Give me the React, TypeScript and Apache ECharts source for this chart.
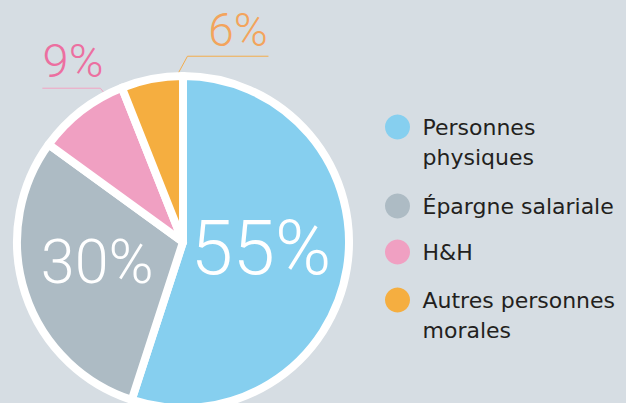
import React, { useEffect, useRef } from 'react';
import * as echarts from 'echarts';

const categories = ['Personnes physiques', 'Épargne salariale', 'H&H', 'Autres personnes morales'];
const legendLabels = ['Personnes\nphysiques', 'Épargne salariale', 'H&H', 'Autres personnes\nmorales'];
const values = [55, 30, 9, 6];
const valueLabels = ['55%', '30%', '9%', '6%'];
const colors = ['#86cfef', '#adbbc4', '#f0a0c2', '#f5ae40'];
const labelColors = ['#ffffff', '#ffffff', '#ec6fa0', '#f3a45c'];
const lineColors = ['#ffffff', '#ffffff', '#f2a3c3', '#f3ac4c'];

const CX = 183;
const CY = 242;
const R = 166;
const RC = 162;

export default function App() {
  const ref = useRef<HTMLDivElement>(null);
  useEffect(() => {
    if (!ref.current) return;
    const chart = echarts.init(ref.current, null, { renderer: 'svg' });
    const total = values.reduce((a, b) => a + b, 0);
    const cum: number[] = [];
    let acc = 0;
    values.forEach((v) => { cum.push(acc); acc += v; });
    const pt = (i: number, frac: number) => {
      const f = (cum[i] + values[i] * frac) / total;
      const a = f * Math.PI * 2;
      return [CX + RC * Math.sin(a), CY - RC * Math.cos(a)];
    };

    const legendTops = [82, 191, 237, 255];
    const legends = categories.map((name, i) => {
      const twoLine = legendLabels[i].includes('\n');
      return {
        data: [name],
        left: 385,
        top: legendTops[i],
        padding: 0,
        orient: 'vertical',
        icon: 'circle',
        itemWidth: 40,
        itemHeight: 25,
        selectedMode: false,
        itemStyle: { borderWidth: 0 },
        formatter: () => (twoLine ? '\n' + legendLabels[i] : legendLabels[i]),
        textStyle: {
          fontFamily: 'DejaVu Sans',
          fontSize: 22,
          color: '#231f20',
          lineHeight: 30,
        },
      };
    });

    chart.setOption({
      animation: false,
      backgroundColor: '#d6dde3',
      legend: legends,
      series: [
        {
          type: 'pie',
          center: [CX, CY],
          radius: R,
          startAngle: 90,
          clockwise: true,
          avoidLabelOverlap: false,
          silent: true,
          itemStyle: { borderColor: '#ffffff', borderWidth: 8 },
          emphasis: { disabled: true },
          label: {
            show: true,
            position: 'inside',
            fontFamily: 'Roboto',
            fontWeight: 300,
          },
          labelLine: { show: false },
          labelLayout: (p: any) => {
            if (p.dataIndex === 0) return { dx: -7, dy: -7 };
            if (p.dataIndex === 1) return { dx: -4, dy: -7 };
            if (p.dataIndex === 2) {
              const s = pt(2, 0.82);
              const m = [s[0] - 8, s[1] - 10];
              const e = [m[0] - 58, m[1]];
              return {
                x: 73,
                y: m[1] - 28,
                align: 'center',
                verticalAlign: 'middle',
                labelLinePoints: [s, m, e],
              };
            }
            if (p.dataIndex === 3) {
              const s = pt(3, 0.86);
              const m = [s[0] + 13, s[1] - 24];
              const e = [m[0] + 81, m[1]];
              return {
                x: 238,
                y: m[1] - 26,
                align: 'center',
                verticalAlign: 'middle',
                labelLinePoints: [s, m, e],
              };
            }
            return {};
          },
          data: categories.map((name, i) => ({
            name,
            value: values[i],
            itemStyle: { color: colors[i] },
            label: {
              formatter: valueLabels[i],
              color: labelColors[i],
              fontSize: [76, 61, 47, 46][i],
              position: i < 2 ? 'inside' : 'outside',
            },
            labelLine: {
              show: i >= 2,
              lineStyle: { color: lineColors[i], width: 1 },
            },
          })),
        },
      ],
    });
    return () => chart.dispose();
  }, []);
  return (
    <div
      ref={ref}
      style={{ position: 'fixed', left: 0, top: 0, width: 626, height: 403 }}
    />
  );
}
